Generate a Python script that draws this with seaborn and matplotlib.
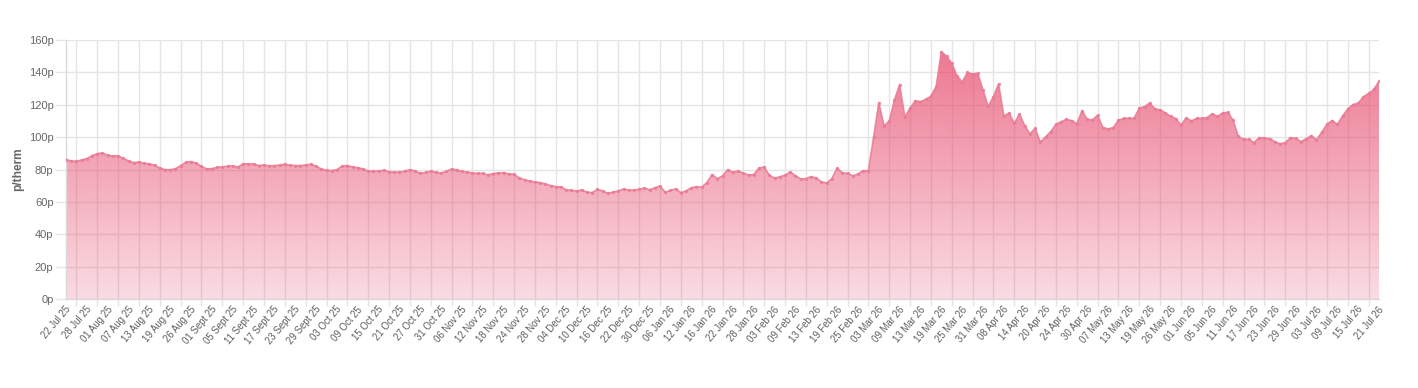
import numpy as np
import pandas as pd
import seaborn as sns
import matplotlib
matplotlib.use("Agg")
import matplotlib.pyplot as plt
import matplotlib.transforms as mtransforms

# ---------------- data ----------------
tick_labels = [
    "22 Jul 25", "28 Jul 25", "01 Aug 25", "07 Aug 25", "13 Aug 25", "19 Aug 25",
    "26 Aug 25", "01 Sept 25", "05 Sept 25", "11 Sept 25", "17 Sept 25", "23 Sept 25",
    "29 Sept 25", "03 Oct 25", "09 Oct 25", "15 Oct 25", "21 Oct 25", "27 Oct 25",
    "31 Oct 25", "06 Nov 25", "12 Nov 25", "18 Nov 25", "24 Nov 25", "28 Nov 25",
    "04 Dec 25", "10 Dec 25", "16 Dec 25", "22 Dec 25", "30 Dec 25", "06 Jan 26",
    "12 Jan 26", "16 Jan 26", "22 Jan 26", "28 Jan 26", "03 Feb 26", "09 Feb 26",
    "13 Feb 26", "19 Feb 26", "25 Feb 26", "03 Mar 26", "09 Mar 26", "13 Mar 26",
    "19 Mar 26", "25 Mar 26", "31 Mar 26", "08 Apr 26", "14 Apr 26", "20 Apr 26",
    "24 Apr 26", "30 Apr 26", "07 May 26", "13 May 26", "19 May 26", "26 May 26",
    "01 Jun 26", "05 Jun 26", "11 Jun 26", "17 Jun 26", "23 Jun 26", "29 Jun 26",
    "03 Jul 26", "09 Jul 26", "15 Jul 26", "21 Jul 26",
]

prices_jul_sep = [
    86.2, 85.4, 85.1, 86.0, 86.8, 88.6, 89.9, 90.3, 88.8, 88.4,
    88.6, 86.9, 85.4, 84.3, 84.8, 83.9, 83.6, 82.8, 81.0, 80.0,
    80.0, 80.5, 82.5, 84.5, 85.0, 84.0, 82.0, 80.5, 80.6, 81.4,
    81.6, 82.2, 82.3, 81.6, 83.6, 83.6, 83.5, 82.5, 82.9, 82.3,
    82.5, 82.8, 83.3,
]
prices_sep_nov = [
    82.7, 82.5, 82.5, 82.9, 83.3, 82.2, 80.4, 79.6, 79.4, 80.0,
    82.2, 82.5, 81.7, 81.2, 80.5, 79.1, 79.0, 79.2, 79.6, 78.8,
    78.4, 78.6, 79.0, 80.0, 79.2, 77.7, 78.3, 79.0, 78.4, 77.9,
    78.9, 80.4, 79.8, 79.0, 78.4, 77.9, 77.7, 77.7, 76.7, 77.6,
    77.9, 78.1, 77.3, 77.1,
]
prices_nov_jan = [
    74.9, 73.8, 73.0, 72.4, 72.0, 71.2, 70.2, 69.5, 69.3, 67.6,
    67.2, 66.8, 67.5, 66.0, 65.9, 67.8, 66.9, 65.3, 66.2, 66.8,
    68.1, 67.4, 67.4, 67.9, 68.6, 67.6, 68.8, 69.9, 66.0, 67.2,
    68.1, 65.8, 66.9, 68.8, 69.5, 69.2, 72.0, 77.0, 74.4, 76.1,
    80.0, 78.4, 79.2,
]
prices_jan_mar = [
    77.8, 76.7, 77.0, 81.0, 81.6, 76.5, 74.8, 75.6, 76.6, 78.6,
    76.3, 74.2, 74.5, 75.7, 74.7, 72.5, 71.7, 74.5, 81.0, 78.0,
    77.7, 76.2, 77.3, 79.4, 79.3, 100.0, 121.4, 107.0, 110.0, 123.0,
    132.5, 112.5, 118.0, 122.5, 122.0, 123.3, 125.3, 131.3, 152.8, 150.0,
    145.7,
]
prices_mar_may = [
    138.0, 134.0, 140.0, 139.0, 139.5, 129.2, 119.0, 125.0, 133.0, 113.0,
    115.0, 108.5, 114.4, 107.2, 102.0, 105.5, 97.0, 100.2, 103.5, 108.0,
    109.6, 111.0, 110.3, 108.3, 116.4, 111.0, 110.7, 113.5, 106.0, 105.1,
    106.0, 110.5, 111.6, 111.7, 111.7, 118.0, 118.9, 121.2, 117.5, 116.9,
]
prices_may_jul = [
    115.0, 113.0, 111.5, 107.5, 112.0, 110.0, 111.7, 111.7, 112.1, 114.5,
    112.8, 115.0, 115.4, 110.5, 100.5, 98.8, 98.7, 96.7, 99.8, 99.4,
    99.2, 97.3, 95.9, 96.7, 99.7, 99.4, 97.3, 99.0, 101.0, 98.5,
    103.0, 108.0, 110.3, 108.0, 113.0, 117.5, 120.2, 121.0, 125.0, 127.0,
    129.5, 134.5,
]
prices = (prices_jul_sep + prices_sep_nov + prices_nov_jan +
          prices_jan_mar + prices_mar_may + prices_may_jul)

y_ticks = [0, 20, 40, 60, 80, 100, 120, 140, 160]
y_tick_labels = [f"{v}p" for v in y_ticks]
label_every = 4

# ---------------- style ----------------
sns.set_theme(style="white")
plt.rcParams['font.family'] = ['Liberation Sans', 'DejaVu Sans']

grid_color = "#e5e5e5"
text_color = "#666666"
base_rgb = np.array([231, 76, 110]) / 255.0
line_color = "#ea7a93"

df = pd.DataFrame({"idx": np.arange(len(prices)), "price": prices})
n = len(prices)

W, H = 1418, 388
fig = plt.figure(figsize=(W / 100, H / 100), dpi=100)
left_px, right_px, top_px, bottom_px = 66, 1379, 40, 299.3
ax = fig.add_axes([left_px / W, (H - bottom_px) / H,
                   (right_px - left_px) / W, (bottom_px - top_px) / H])

# gradient area fill
poly = ax.fill_between(df["idx"], df["price"], 0, facecolor="none",
                       edgecolor="none", zorder=1)
ng = 256
grad = np.zeros((ng, 1, 4))
grad[:, 0, :3] = base_rgb
grad[:, 0, 3] = np.linspace(0.2, 0.78, ng)
im = ax.imshow(grad, extent=[0, n - 1, 0, y_ticks[-1]], origin="lower",
               aspect="auto", zorder=1, interpolation="bilinear")
im.set_clip_path(poly.get_paths()[0], transform=ax.transData)

# line with small points
sns.lineplot(data=df, x="idx", y="price", ax=ax, color=line_color,
             linewidth=1.2, marker="o", markersize=2.4, markeredgewidth=0,
             alpha=0.85, zorder=3)

ax.set_xlim(0, n - 1)
ax.set_ylim(y_ticks[0], y_ticks[-1])

# y axis
ax.set_yticks(y_ticks)
ax.set_yticklabels(y_tick_labels)
ax.tick_params(axis="y", which="major", length=7, width=1, color=grid_color,
               labelsize=8, labelcolor=text_color, pad=2, left=True)
ax.yaxis.grid(True, color=grid_color, linewidth=1, zorder=0)

# x axis: labels every 4th point, gridlines offset by half an interval
major_pos = np.arange(0, n, label_every)
minor_pos = np.arange(label_every / 2, n - 1, label_every)
ax.set_xticks(major_pos)
ax.set_xticklabels(tick_labels[:len(major_pos)])
ax.set_xticks(minor_pos, minor=True)
ax.tick_params(axis="x", which="major", length=0, labelsize=6.9,
               labelcolor="#5e5e5e", pad=6, bottom=True)
ax.tick_params(axis="x", which="minor", length=5, width=1, color=grid_color,
               bottom=True)
ax.xaxis.grid(True, which="minor", color=grid_color, linewidth=1, zorder=0)
ax.xaxis.grid(False, which="major")
offset = mtransforms.ScaledTranslation(3 / 100, 0, fig.dpi_scale_trans)
for lab in ax.get_xticklabels():
    lab.set_rotation(50)
    lab.set_ha("right")
    lab.set_va("center")
    lab.set_rotation_mode("anchor")
    lab.set_transform(lab.get_transform() + offset)

ax.set_xlabel("")
ax.set_ylabel("p/therm", fontsize=8.6, fontweight="bold", color=text_color)
ax.yaxis.set_label_coords((24 - left_px) / (right_px - left_px), 0.5)

for side in ["top", "right"]:
    ax.spines[side].set_visible(False)
for side in ["left", "bottom"]:
    ax.spines[side].set_color("#d9d9d9")
    ax.spines[side].set_linewidth(1)
ax.set_axisbelow(True)

fig.savefig("out.png", dpi=100, facecolor="white")
